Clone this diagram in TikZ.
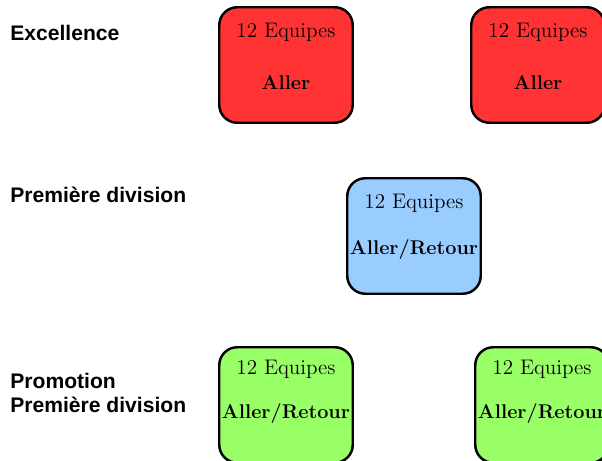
\documentclass[tikz,border=0pt]{standalone}
\usepackage{fontspec}
\newfontfamily\labelfont{Liberation Sans}
\usetikzlibrary{positioning}
\definecolor{excred}{HTML}{FF3333}
\definecolor{premblue}{HTML}{99CCFF}
\definecolor{promgreen}{HTML}{99FF66}
\tikzset{
    box/.style ={rectangle, rounded corners=0.36cm, draw=black, line width=1.4pt, minimum width=2.67cm, minimum height=2.31cm},
    count/.style = {font=\fontsize{12}{14}\selectfont, inner sep=0pt},
    mode/.style = {font=\fontsize{11.3}{13}\selectfont\bfseries, inner sep=0pt},
    level/.style = {anchor=west, align=left, inner sep=0pt, font=\labelfont\bfseries\fontsize{12}{13.6}\selectfont}
}
\begin{document}
\begin{tikzpicture}

    \useasboundingbox (0,0) rectangle (12.04,-9.22);

    % Levels
    \node[level] (exc) at (0.2,-0.66) {Excellence};
    \node[level] (prem) at (0.2,-3.90) {Première division};
    \node[level] (prom) at (0.2,-7.86) {Promotion\\Première division};

    % Boxes
    \node[box, fill=excred] (exc1) at (5.72,-1.30) {};
    \node[box, fill=excred] (exc2) at (10.76,-1.30) {};
    \node[box, fill=premblue] (prem1) at (8.28,-4.72) {};
    \node[box, fill=promgreen] (prom1) at (5.72,-8.10) {};
    \node[box, fill=promgreen] (prom2) at (10.84,-8.10) {};

    % Texts
    \node[count] (exc1c) at ([yshift=-0.53cm]exc1.north) {12 Equipes};
    \node[mode] (exc1m) at ([yshift=-0.36cm]exc1.center) {Aller};
    \node[count] (exc2c) at ([yshift=-0.53cm]exc2.north) {12 Equipes};
    \node[mode] (exc2m) at ([yshift=-0.36cm]exc2.center) {Aller};
    \node[count] (prem1c) at ([yshift=-0.53cm]prem1.north) {12 Equipes};
    \node[mode] (prem1m) at ([yshift=-0.28cm]prem1.center) {Aller/Retour};
    \node[count] (prom1c) at ([yshift=-0.46cm]prom1.north) {12 Equipes};
    \node[mode] (prom1m) at ([yshift=-0.18cm]prom1.center) {Aller/Retour};
    \node[count] (prom2c) at ([yshift=-0.46cm]prom2.north) {12 Equipes};
    \node[mode] (prom2m) at ([yshift=-0.18cm]prom2.center) {Aller/Retour};

\end{tikzpicture}
\end{document}
